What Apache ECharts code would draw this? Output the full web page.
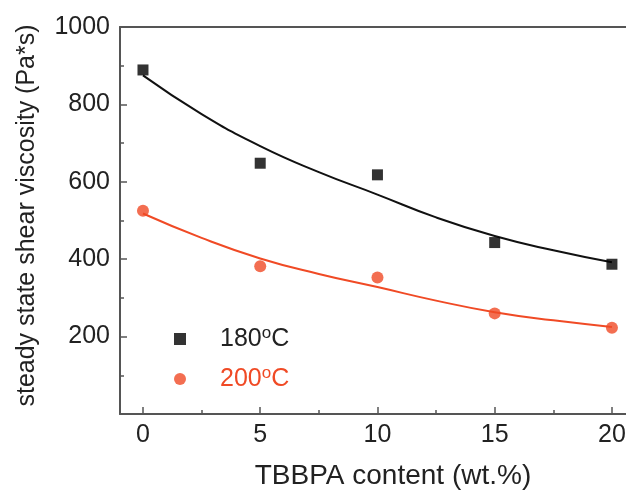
<!DOCTYPE html>
<html><head><meta charset="utf-8">
<script src="https://cdn.jsdelivr.net/npm/echarts@6/dist/echarts.min.js"></script>
<style>html,body{margin:0;padding:0;background:#fff}#c{width:626px;height:490px}</style>
</head><body><div id="c"></div>
<script>
const xValues = [0, 5, 10, 15, 20];
const visc180 = [889, 648, 618, 443, 387];
const visc200 = [525, 382, 353, 260, 223];
const fitX = [0, 2.5, 5, 7.5, 10, 12.5, 15, 17.5, 20];
const fit180 = [875, 775, 692, 625, 567, 508, 460, 423, 392];
const fit200 = [518, 455, 402, 362, 328, 293, 263, 242, 225];
const xTickLabels = [0, 5, 10, 15, 20];
const xMinorTicks = [2.5, 7.5, 12.5, 17.5];
const yTickLabels = [200, 400, 600, 800, 1000];
const seriesNames = ['180', '200'];

const RED = '#f04a25';
const AX = '#555';
const FONT = 'Liberation Sans, Arial, sans-serif';
const pair = (xs, ys) => xs.map((x, i) => [x, ys[i]]);
const X_MIN = -0.98, X_MAX = 20.6;

const chart = echarts.init(document.getElementById('c'), null, {renderer: 'canvas'});
chart.setOption({
  animation: false,
  backgroundColor: '#fff',
  grid: {left: 120, top: 27, right: 0, bottom: 76, show: false, containLabel: false, outerBoundsMode: 'none'},
  xAxis: [{
    type: 'value', min: X_MIN, max: X_MAX, position: 'bottom',
    axisLine: {show: true, onZero: false, lineStyle: {color: AX, width: 2}},
    axisTick: {show: true, inside: true, length: 7, customValues: xTickLabels, lineStyle: {color: AX, width: 1.5}},
    axisLabel: {customValues: xTickLabels, fontSize: 25, color: '#222', fontFamily: FONT, margin: 9},
    splitLine: {show: false},
    name: 'TBBPA content (wt.%)', nameLocation: 'middle', nameGap: 48,
    nameTextStyle: {fontSize: 28, color: '#222', fontFamily: FONT, padding: [0, 0, 0, 40]}
  }, {
    type: 'value', min: X_MIN, max: X_MAX, position: 'bottom',
    axisLine: {show: false, onZero: false},
    axisTick: {show: true, inside: true, length: 4, customValues: xMinorTicks, lineStyle: {color: AX, width: 1.5}},
    axisLabel: {show: false},
    splitLine: {show: false}
  }, {
    type: 'value', min: X_MIN, max: X_MAX, position: 'top',
    axisLine: {show: true, onZero: false, lineStyle: {color: AX, width: 2}},
    axisTick: {show: false},
    axisLabel: {show: false},
    splitLine: {show: false}
  }],
  yAxis: {
    type: 'value', min: 0, max: 1000, interval: 200,
    axisLine: {show: true, onZero: false, lineStyle: {color: AX, width: 2}},
    axisTick: {show: true, inside: true, length: 7, lineStyle: {color: AX, width: 1.5}},
    minorTick: {show: true, splitNumber: 2, length: 4, lineStyle: {color: AX, width: 1.5}},
    axisLabel: {customValues: yTickLabels, formatter: v => String(v), fontSize: 25, color: '#222', fontFamily: FONT, margin: 10},
    splitLine: {show: false},
    name: 'steady state shear viscosity (Pa*s)', nameLocation: 'middle', nameGap: 70,
    nameTextStyle: {fontSize: 25, color: '#222', fontFamily: FONT, padding: [0, 0, 10, 10]}
  },
  legend: {
    orient: 'vertical', left: 174, top: 325, padding: 0, itemGap: 12,
    itemWidth: 12, itemHeight: 12,
    data: [
      {name: seriesNames[0], icon: 'rect', textStyle: {color: '#222'}},
      {name: seriesNames[1], icon: 'circle', textStyle: {color: RED}}
    ],
    formatter: n => '{g|}' + n + '{s|o}C',
    textStyle: {fontSize: 25, fontFamily: FONT, lineHeight: 28,
      rich: {g: {width: 29}, s: {fontSize: 17, verticalAlign: 'top', lineHeight: 8, fontFamily: FONT}}}
  },
  series: [
    {name: 'fit180', type: 'line', data: pair(fitX, fit180), smooth: true, showSymbol: false,
     lineStyle: {color: '#111', width: 2}, z: 2, silent: true},
    {name: 'fit200', type: 'line', data: pair(fitX, fit200), smooth: true, showSymbol: false,
     lineStyle: {color: RED, width: 2}, z: 2, silent: true},
    {name: seriesNames[0], type: 'scatter', data: pair(xValues, visc180), symbol: 'rect', symbolSize: 11,
     itemStyle: {color: '#000'}, z: 3},
    {name: seriesNames[1], type: 'scatter', data: pair(xValues, visc200), symbol: 'circle', symbolSize: 12,
     itemStyle: {color: RED}, z: 3}
  ]
});
</script></body></html>
